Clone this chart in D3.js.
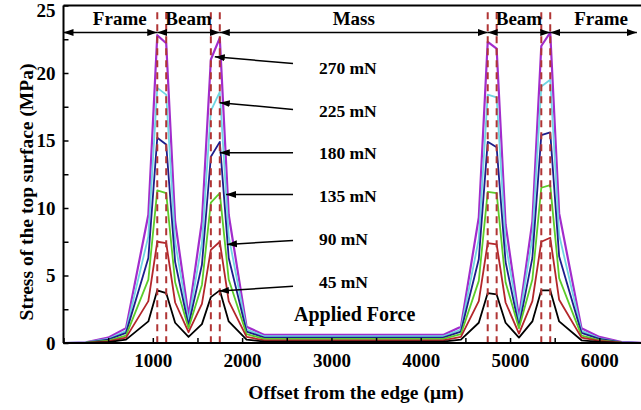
<!DOCTYPE html>
<html>
<head>
<meta charset="utf-8">
<script src="https://cdn.jsdelivr.net/npm/d3@7"></script>
<style>
  body { margin: 0; background: white; }
  text { font-family: "Liberation Serif", "Times New Roman", serif; font-weight: bold; fill: #000; }
</style>
</head>
<body>
<script>
// offset from the edge (um) where stress was sampled
var offsets = [0, 250, 500, 700, 950, 1050, 1150, 1250, 1400, 1550, 1650, 1750, 1850, 2050, 2250, 2500, 3000,
  3500, 4000, 4250, 4450, 4650, 4750, 4850, 4950, 5100, 5250, 5350, 5450, 5550, 5800, 6000, 6250, 6500];

// stress of the top surface (MPa) for each applied force
var stress45 = [0, 0, 0.06, 0.25, 1.6, 3.9, 3.7, 1.5, 0.45, 1.4, 3.4, 3.9, 1.6, 0.25, 0.1, 0.1, 0.1,
  0.1, 0.1, 0.1, 0.25, 1.5, 3.7, 3.6, 1.5, 0.4, 1.6, 3.9, 3.9, 1.6, 0.2, 0.08, 0.01, 0];
var stress90 = [0, 0.01, 0.12, 0.4, 3.1, 7.5, 7.4, 3.0, 0.8, 2.9, 6.9, 7.5, 3.1, 0.45, 0.2, 0.2, 0.2,
  0.2, 0.2, 0.2, 0.45, 3.1, 7.4, 7.3, 3.0, 0.7, 3.1, 7.5, 7.8, 3.2, 0.4, 0.15, 0.02, 0];
var stress135 = [0, 0.02, 0.18, 0.55, 4.7, 11.3, 11.1, 4.5, 1.1, 4.3, 10.4, 11.1, 4.7, 0.65, 0.3, 0.3, 0.3,
  0.3, 0.3, 0.3, 0.65, 4.6, 11.2, 11.1, 4.5, 1.1, 4.7, 11.5, 11.7, 4.8, 0.55, 0.22, 0.03, 0];
var stress180 = [0, 0.03, 0.25, 0.75, 6.3, 15.2, 14.7, 6.0, 1.3, 5.8, 13.8, 14.9, 6.3, 0.85, 0.4, 0.4, 0.4,
  0.4, 0.4, 0.4, 0.85, 6.2, 14.9, 14.5, 6.0, 1.2, 6.3, 15.4, 15.6, 6.4, 0.75, 0.3, 0.04, 0];
var stress225 = [0, 0.04, 0.3, 0.9, 7.9, 18.9, 18.4, 7.5, 1.6, 7.4, 17.2, 18.6, 7.9, 1.0, 0.5, 0.5, 0.5,
  0.5, 0.5, 0.5, 1.0, 7.7, 18.4, 18.2, 7.4, 1.6, 7.8, 19.0, 19.5, 8.0, 0.9, 0.35, 0.05, 0];
var stress270 = [0, 0.05, 0.4, 1.1, 9.5, 22.8, 22.2, 9.0, 2.0, 9.0, 21.0, 22.6, 9.5, 1.2, 0.6, 0.6, 0.6,
  0.6, 0.6, 0.6, 1.2, 9.3, 22.3, 21.8, 8.8, 1.9, 9.0, 22.0, 23.0, 9.6, 1.1, 0.45, 0.07, 0];

var forceNames = ["45 mN", "90 mN", "135 mN", "180 mN", "225 mN", "270 mN"];
var seriesValues = [stress45, stress90, stress135, stress180, stress225, stress270];
var seriesColors = ["#000000", "#b3262a", "#5ccc2a", "#1d1d8c", "#6fd6e2", "#a22ccc"];

// beam edges (dashed lines)
var beamEdges = [1050, 1150, 1650, 1750, 4750, 4850, 5350, 5450];

// region arrows along the top
var regionNames = ["Frame", "Beam", "Mass", "Beam", "Frame"];
var regionStart = [0, 1050, 1750, 4750, 5450];
var regionEnd = [1050, 1750, 4750, 5450, 6420];
var regionLabelX = [630, 1400, 3250, 5100, 6020];
var regionLineY = 23;

// force labels with arrows pointing to the curves
var labelY = [4.5, 7.7, 10.9, 14.1, 17.2, 20.4];
var arrowTailX = 2570;
var arrowTailY = [4.2, 7.6, 11.0, 14.1, 17.3, 20.7];
var arrowTipX = [1740, 1830, 1820, 1750, 1750, 1694];
var arrowTipY = [3.85, 7.3, 11.0, 14.1, 17.8, 21.2];
var labelX = 2860;

var xTicks = d3.range(0, 6501, 500);
var xLabels = [1000, 2000, 3000, 4000, 5000, 6000];
var yTicks = d3.range(0, 25.01, 2.5);
var yLabels = [0, 5, 10, 15, 20, 25];

var width = 641, height = 410;

var svg = d3.select("body").append("svg")
  .attr("width", width)
  .attr("height", height)
  .style("display", "block");

svg.append("rect").attr("width", width).attr("height", height).attr("fill", "white");

var x = d3.scaleLinear().domain([0, 6500]).range([63.5, 644]);
var y = d3.scaleLinear().domain([0, 25]).range([343, 5.5]);

var defs = svg.append("defs");
defs.append("marker")
  .attr("id", "arrow")
  .attr("viewBox", "0 -4 10 8")
  .attr("refX", 10)
  .attr("refY", 0)
  .attr("markerWidth", 10)
  .attr("markerHeight", 8)
  .attr("markerUnits", "userSpaceOnUse")
  .attr("orient", "auto-start-reverse")
  .append("path")
  .attr("d", "M0,-3.5L10,0L0,3.5Z")
  .attr("fill", "#000");

// curves
var line = d3.line()
  .x(function(d, i) { return x(offsets[i]); })
  .y(function(d) { return y(d); });

for (var s = seriesValues.length - 1; s >= 0; s--) {
  svg.append("path")
    .datum(seriesValues[s])
    .attr("fill", "none")
    .attr("stroke", seriesColors[s])
    .attr("stroke-width", s == 5 ? 2.2 : 1.8)
    .attr("stroke-linejoin", "round")
    .attr("d", line);
}

// dashed beam edges
svg.selectAll(".edge")
  .data(beamEdges)
  .enter().append("line")
  .attr("class", "edge")
  .attr("x1", function(d) { return x(d); })
  .attr("x2", function(d) { return x(d); })
  .attr("y1", y(24.5))
  .attr("y2", y(0))
  .attr("stroke", "#b03535")
  .attr("stroke-width", 2)
  .attr("stroke-dasharray", "7,5");

// axes (ticks point inward)
var xAxis = d3.axisBottom(x)
  .tickValues(xTicks)
  .tickSize(-5)
  .tickPadding(11)
  .tickFormat(function(d) { return xLabels.indexOf(d) >= 0 ? d : ""; });

var yAxis = d3.axisLeft(y)
  .tickValues(yTicks)
  .tickSize(-5)
  .tickPadding(8)
  .tickFormat(function(d) { return yLabels.indexOf(d) >= 0 ? d : ""; });

var gx = svg.append("g")
  .attr("transform", "translate(0," + y(0) + ")")
  .call(xAxis);
var gy = svg.append("g")
  .attr("transform", "translate(" + x(0) + ",0)")
  .call(yAxis);

[gx, gy].forEach(function(g) {
  g.select(".domain").remove();
  g.selectAll(".tick line").attr("stroke", "#000").attr("stroke-width", 1.5);
  g.selectAll("text")
    .attr("fill", "#000")
    .style("font-family", "'Liberation Serif', 'Times New Roman', serif")
    .style("font-weight", "bold")
    .style("font-size", "19px");
});

// the top label would be clipped at the edge, push it down a little
gy.selectAll(".tick text").filter(function(d) { return d == 25; }).attr("dy", "0.6em");

// frame lines
svg.append("line").attr("x1", x(0)).attr("x2", width).attr("y1", y(0)).attr("y2", y(0))
  .attr("stroke", "#000").attr("stroke-width", 2);
svg.append("line").attr("x1", x(0)).attr("x2", x(0)).attr("y1", y(25)).attr("y2", y(0))
  .attr("stroke", "#000").attr("stroke-width", 2);
svg.append("line").attr("x1", x(0)).attr("x2", width).attr("y1", y(25)).attr("y2", y(25))
  .attr("stroke", "#000").attr("stroke-width", 2);

// region arrows and names
for (var r = 0; r < regionNames.length; r++) {
  svg.append("line")
    .attr("x1", x(regionStart[r]))
    .attr("x2", x(regionEnd[r]))
    .attr("y1", y(regionLineY))
    .attr("y2", y(regionLineY))
    .attr("stroke", "#000")
    .attr("stroke-width", 1.5)
    .attr("marker-start", "url(#arrow)")
    .attr("marker-end", "url(#arrow)");
  svg.append("text")
    .attr("x", x(regionLabelX[r]))
    .attr("y", y(regionLineY) - 8)
    .attr("text-anchor", "middle")
    .style("font-size", "19px")
    .text(regionNames[r]);
}

// force labels
for (var k = 0; k < forceNames.length; k++) {
  svg.append("line")
    .attr("x1", x(arrowTailX))
    .attr("y1", y(arrowTailY[k]))
    .attr("x2", x(arrowTipX[k]))
    .attr("y2", y(arrowTipY[k]))
    .attr("stroke", "#000")
    .attr("stroke-width", 1.5)
    .attr("marker-end", "url(#arrow)");
  svg.append("text")
    .attr("x", x(labelX))
    .attr("y", y(labelY[k]))
    .attr("dy", "0.35em")
    .style("font-size", "17.5px")
    .text(forceNames[k]);
}

svg.append("text")
  .attr("x", 294)
  .attr("y", 321)
  .style("font-size", "20px")
  .text("Applied Force");

// axis titles
svg.append("text")
  .attr("transform", "translate(33,192) rotate(-90)")
  .attr("text-anchor", "middle")
  .style("font-size", "19.5px")
  .text("Stress of the top surface (MPa)");

svg.append("text")
  .attr("x", 356)
  .attr("y", 399)
  .attr("text-anchor", "middle")
  .style("font-size", "19.5px")
  .text("Offset from the edge (\u03bcm)");
</script>
</body>
</html>
